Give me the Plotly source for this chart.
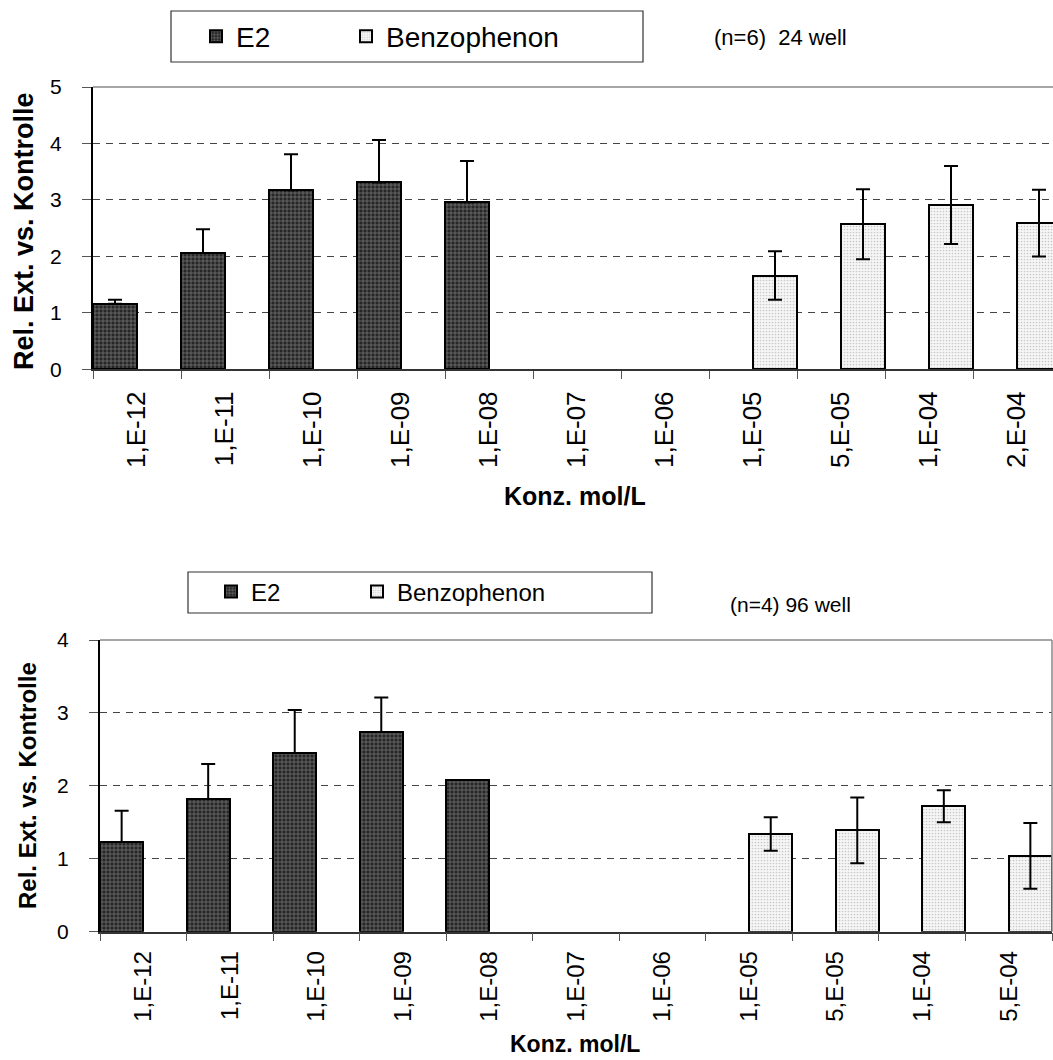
import plotly.graph_objects as go

# ---------------- data ----------------
cats_top = ["1,E-12", "1,E-11", "1,E-10", "1,E-09", "1,E-08", "1,E-07", "1,E-06",
            "1,E-05", "5,E-05", "1,E-04", "2,E-04"]
e2_top = [1.16, 2.06, 3.17, 3.31, 2.96, None, None, None, None, None, None]
e2_top_err = [0.07, 0.42, 0.64, 0.75, 0.73, None, None, None, None, None, None]
bz_top = [None, None, None, None, None, None, None, 1.66, 2.57, 2.91, 2.59]
bz_top_err = [None, None, None, None, None, None, None, 0.43, 0.62, 0.69, 0.59]

cats_bot = ["1,E-12", "1,E-11", "1,E-10", "1,E-09", "1,E-08", "1,E-07", "1,E-06",
            "1,E-05", "5,E-05", "1,E-04", "5,E-04"]
e2_bot = [1.23, 1.82, 2.45, 2.74, 2.08, None, None, None, None, None, None]
e2_bot_err = [0.43, 0.48, 0.59, 0.47, 0.0, None, None, None, None, None, None]
bz_bot = [None, None, None, None, None, None, None, 1.34, 1.39, 1.72, 1.04]
bz_bot_err = [None, None, None, None, None, None, None, 0.23, 0.45, 0.22, 0.45]

series_names = ["E2", "Benzophenon"]
y_title = "Rel. Ext. vs. Kontrolle"
x_title = "Konz. mol/L"
note_top = "(n=6)  24 well"
note_bot = "(n=4) 96 well"

W, H = 1053, 1060
FONT = "Liberation Sans, Arial, sans-serif"

def px_x(p):
    return p / W

def px_y(p):
    return 1 - p / H

e2_pattern = dict(shape="+", fgcolor="#d8d8d8", bgcolor="#262626", size=4, solidity=0.3)
bz_pattern = dict(shape=".", fgcolor="#9a9a9a", bgcolor="#f6f6f6", size=3, solidity=0.25)

def zeros(a):
    return [0 if v is not None else None for v in a]

fig = go.Figure()

# top chart
fig.add_trace(go.Bar(x=cats_top, y=e2_top, name=series_names[0], xaxis="x", yaxis="y",
                     marker=dict(pattern=e2_pattern, line=dict(color="black", width=2)),
                     error_y=dict(type="data", array=e2_top_err, arrayminus=zeros(e2_top_err),
                                  symmetric=False, color="black", thickness=2, width=7),
                     legend="legend"))
fig.add_trace(go.Bar(x=cats_top, y=bz_top, name=series_names[1], xaxis="x", yaxis="y",
                     marker=dict(pattern=bz_pattern, line=dict(color="black", width=2)),
                     error_y=dict(type="data", array=bz_top_err, color="black", thickness=2, width=7),
                     legend="legend2"))
# bottom chart
fig.add_trace(go.Bar(x=cats_bot, y=e2_bot, name=series_names[0], xaxis="x2", yaxis="y2",
                     marker=dict(pattern=e2_pattern, line=dict(color="black", width=2)),
                     error_y=dict(type="data", array=e2_bot_err, arrayminus=zeros(e2_bot_err),
                                  symmetric=False, color="black", thickness=2, width=7),
                     legend="legend3"))
fig.add_trace(go.Bar(x=cats_bot, y=bz_bot, name=series_names[1], xaxis="x2", yaxis="y2",
                     marker=dict(pattern=bz_pattern, line=dict(color="black", width=2)),
                     error_y=dict(type="data", array=bz_bot_err, color="black", thickness=2, width=7),
                     legend="legend4"))

xcommon = dict(type="category", tickson="boundaries", ticks="outside", ticklen=8,
               tickcolor="#555", tickwidth=1, tickangle=-90, showline=True, linecolor="#333",
               linewidth=1.5, showgrid=False, zeroline=False, fixedrange=True)
ycommon = dict(ticks="outside", ticklen=9, tickcolor="#555", tickwidth=1, showline=True,
               linecolor="black", linewidth=2, showgrid=True, gridcolor="#444", gridwidth=1,
               griddash="7px,6px", zeroline=False, dtick=1, tick0=0,
               tickfont=dict(family=FONT, size=21, color="black"), ticklabelstandoff=16)

top_left, top_right = 93, 1053
top_y0, top_y1 = 369.3, 87
bot_left, bot_right = 100, 1052
bot_y0, bot_y1 = 931.7, 640

def leg(xpx, ypx, size):
    return dict(orientation="h", x=px_x(xpx), y=px_y(ypx), xanchor="left", yanchor="middle",
                font=dict(family=FONT, size=size, color="black"), borderwidth=0,
                bgcolor="rgba(0,0,0,0)", itemclick=False, itemdoubleclick=False)

fig.update_layout(
    width=W, height=H, margin=dict(l=0, r=0, t=0, b=0, autoexpand=False),
    paper_bgcolor="white", plot_bgcolor="white",
    barmode="group", bargap=0, bargroupgap=0,
    xaxis=dict(xcommon, domain=[px_x(top_left), px_x(top_right)], anchor="y",
               range=[-0.5, -0.5 + (top_right - top_left) / 88.0],
               tickfont=dict(family=FONT, size=26, color="black"), ticklabelstandoff=10),
    yaxis=dict(ycommon, domain=[px_y(top_y0), px_y(top_y1)], anchor="x", range=[0, 5]),
    xaxis2=dict(xcommon, domain=[px_x(bot_left), px_x(bot_right)], anchor="y2",
                range=[-0.5, 10.5],
                tickfont=dict(family=FONT, size=24, color="black"), ticklabelstandoff=8),
    yaxis2=dict(ycommon, domain=[px_y(bot_y0), px_y(bot_y1)], anchor="x2", range=[0, 4]),
    legend=leg(196, 36.5, 28),
    legend2=leg(346, 36.5, 28),
    legend3=leg(211, 592, 24),
    legend4=leg(357, 592, 24),
    showlegend=True,
)

shapes = [
    # legend boxes
    dict(type="rect", xref="paper", yref="paper", x0=px_x(171), x1=px_x(643),
         y0=px_y(62), y1=px_y(11), line=dict(color="#333", width=1.2)),
    dict(type="rect", xref="paper", yref="paper", x0=px_x(188), x1=px_x(652),
         y0=px_y(613), y1=px_y(572), line=dict(color="#333", width=1.2)),
    # plot area borders
    dict(type="line", xref="paper", yref="paper", x0=px_x(top_left), x1=1,
         y0=px_y(top_y1), y1=px_y(top_y1), line=dict(color="#888", width=1.5)),
    dict(type="line", xref="paper", yref="paper", x0=px_x(bot_left), x1=px_x(bot_right),
         y0=px_y(bot_y1), y1=px_y(bot_y1), line=dict(color="#888", width=1.5)),
    dict(type="line", xref="paper", yref="paper", x0=px_x(bot_right), x1=px_x(bot_right),
         y0=px_y(bot_y0), y1=px_y(bot_y1), line=dict(color="#888", width=1.5)),
]
fig.update_layout(shapes=shapes)

ann = [
    dict(text=f"<b>{y_title}</b>", x=px_x(24), y=px_y(231), textangle=-90,
         font=dict(family=FONT, size=27, color="black")),
    dict(text=f"<b>{y_title}</b>", x=px_x(27), y=px_y(786), textangle=-90,
         font=dict(family=FONT, size=24, color="black")),
    dict(text=f"<b>{x_title}</b>", x=px_x(575), y=px_y(496),
         font=dict(family=FONT, size=25, color="black")),
    dict(text=f"<b>{x_title}</b>", x=px_x(575), y=px_y(1044),
         font=dict(family=FONT, size=23, color="black")),
    dict(text=note_top, x=px_x(780), y=px_y(37),
         font=dict(family=FONT, size=22, color="black")),
    dict(text=note_bot, x=px_x(790), y=px_y(604),
         font=dict(family=FONT, size=21, color="black")),
]
for a in ann:
    a.update(xref="paper", yref="paper", showarrow=False, xanchor="center", yanchor="middle")
fig.update_layout(annotations=ann)

fig.write_html("out.html")
